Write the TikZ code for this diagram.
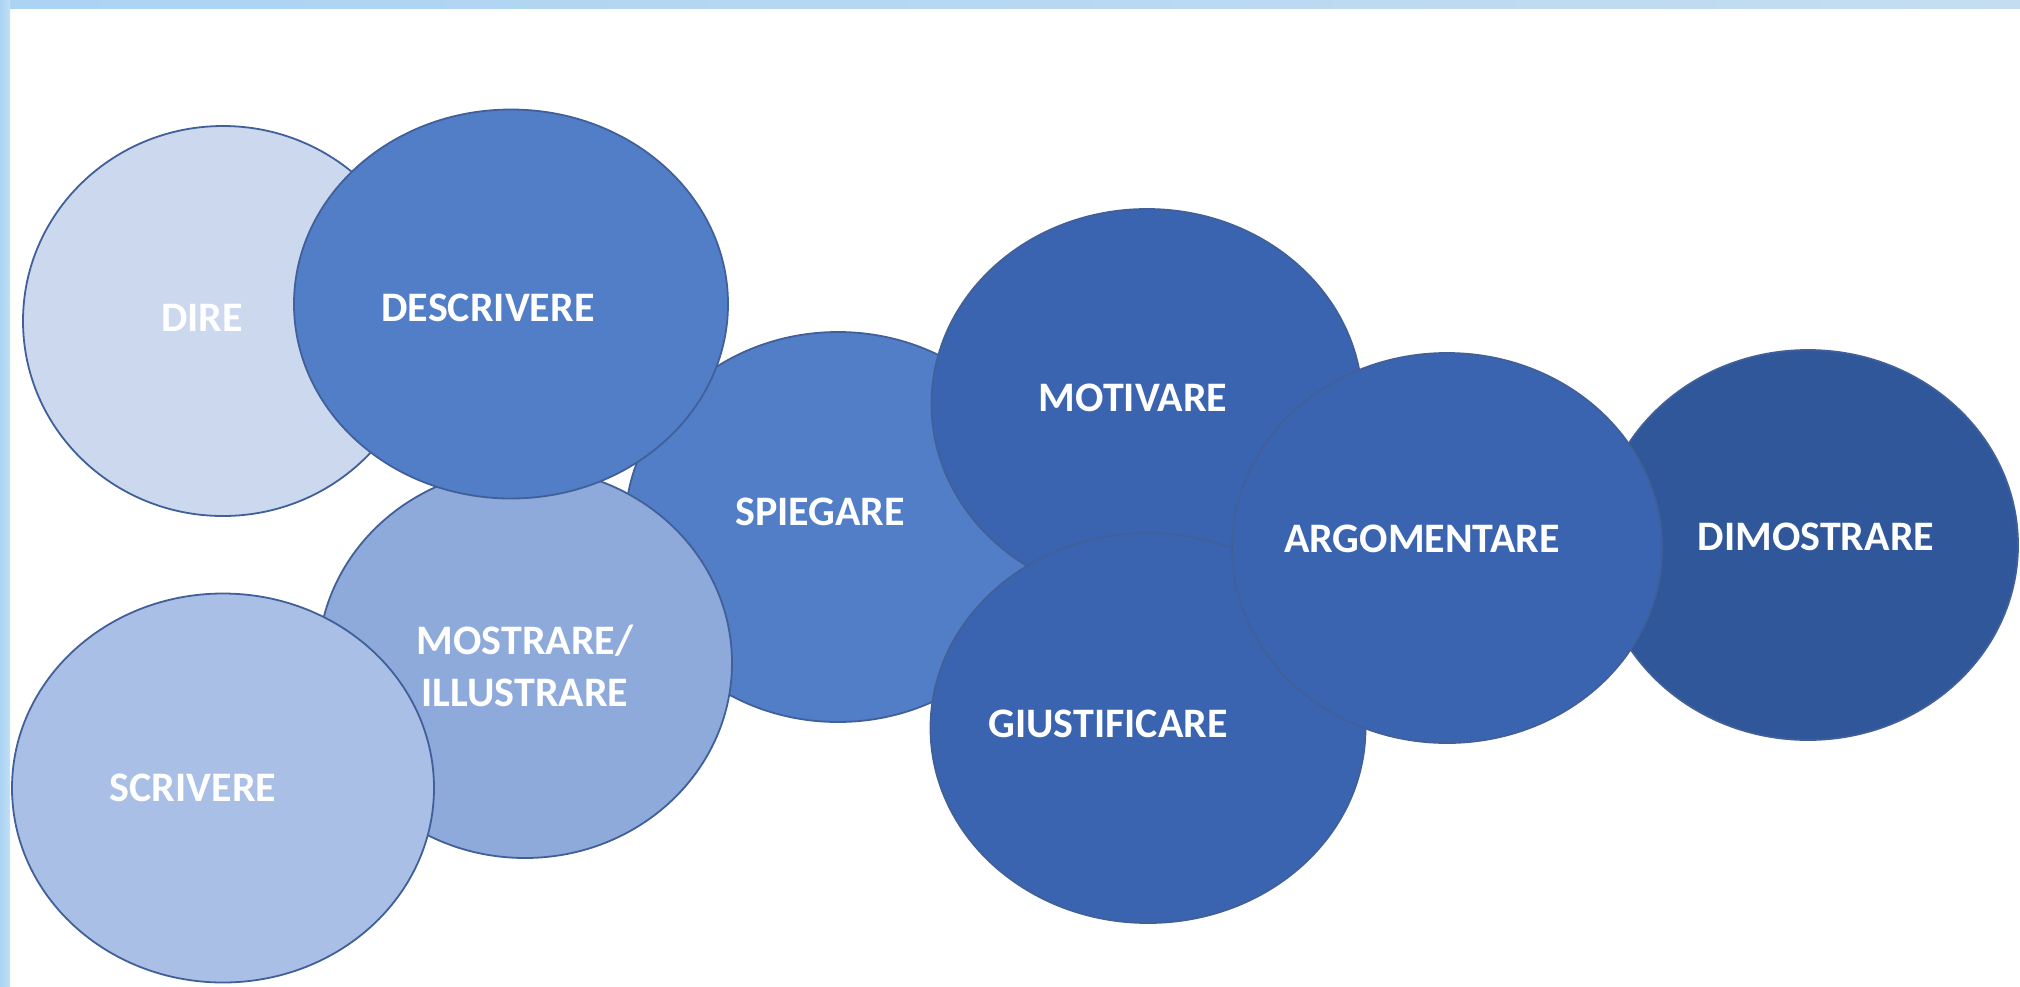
\documentclass[tikz,border=0pt]{standalone}
\usepackage{fontspec}
\setmainfont{Carlito}
\usetikzlibrary{shapes.geometric}
\definecolor{cLine}{HTML}{41609A}
\definecolor{cDire}{HTML}{CBD8EE}
\definecolor{cDescr}{HTML}{527EC8}
\definecolor{cMostr}{HTML}{8EAADB}
\definecolor{cScriv}{HTML}{A9BFE5}
\definecolor{cSpieg}{HTML}{527EC8}
\definecolor{cMid}{HTML}{3A64B0}
\definecolor{cDimo}{HTML}{2F5799}
\definecolor{bandA}{HTML}{ABD3F3}
\definecolor{bandB}{HTML}{C4DDF1}
\definecolor{bandC}{HTML}{C2E0F7}
\begin{document}
\begin{tikzpicture}[x=1pt,y=-1pt,
  blob/.style={ellipse, draw=cLine, line width=1.8pt, inner sep=0pt},
  lbl/.style={text=white, font=\fontsize{42}{52}\selectfont\bfseries, align=center, inner sep=0pt}]
\useasboundingbox (0,0) rectangle (2020,986);
\fill[white] (0,0) rectangle (2020,986);
\shade[left color=bandA, right color=bandB] (0,0) rectangle (2020,8);
\shade[left color=bandA, right color=bandC] (0,0) rectangle (10,986);
% ellipses, back to front
\node[blob, fill=cDimo, minimum width=420pt, minimum height=390pt] (dimostrare) at (1808,545) {};
\node[blob, fill=cSpieg, minimum width=426pt, minimum height=390pt] (spiegare) at (838,527) {};
\node[blob, fill=cMostr, minimum width=414pt, minimum height=390pt] (mostrare) at (525,663) {};
\node[blob, fill=cScriv, minimum width=422pt, minimum height=389pt] (scrivere) at (223,788) {};
\node[blob, fill=cDire, minimum width=400pt, minimum height=390pt] (dire) at (223,321) {};
\node[blob, fill=cDescr, minimum width=434pt, minimum height=389pt] (descrivere) at (511,304) {};
\node[blob, fill=cMid, minimum width=431pt, minimum height=390pt] (motivare) at (1147,404) {};
\node[blob, fill=cMid, minimum width=435pt, minimum height=390pt] (giustificare) at (1148,728) {};
\node[blob, fill=cMid, minimum width=430pt, minimum height=390pt] (argomentare) at (1447,548) {};
% labels
\node[lbl] (dire-t) at (202,318) {DIRE};
\node[lbl] (descrivere-t) at (488,308) {DESCRIVERE};
\node[lbl] (mostrare-t) at (525,666) {MOSTRARE/\\ILLUSTRARE};
\node[lbl] (scrivere-t) at (193,788) {SCRIVERE};
\node[lbl] (spiegare-t) at (820,512) {SPIEGARE};
\node[lbl] (motivare-t) at (1133,398) {MOTIVARE};
\node[lbl] (giustificare-t) at (1108,724) {GIUSTIFICARE};
\node[lbl] (argomentare-t) at (1422,539) {ARGOMENTARE};
\node[lbl] (dimostrare-t) at (1816,537) {DIMOSTRARE};
\end{tikzpicture}
\end{document}
